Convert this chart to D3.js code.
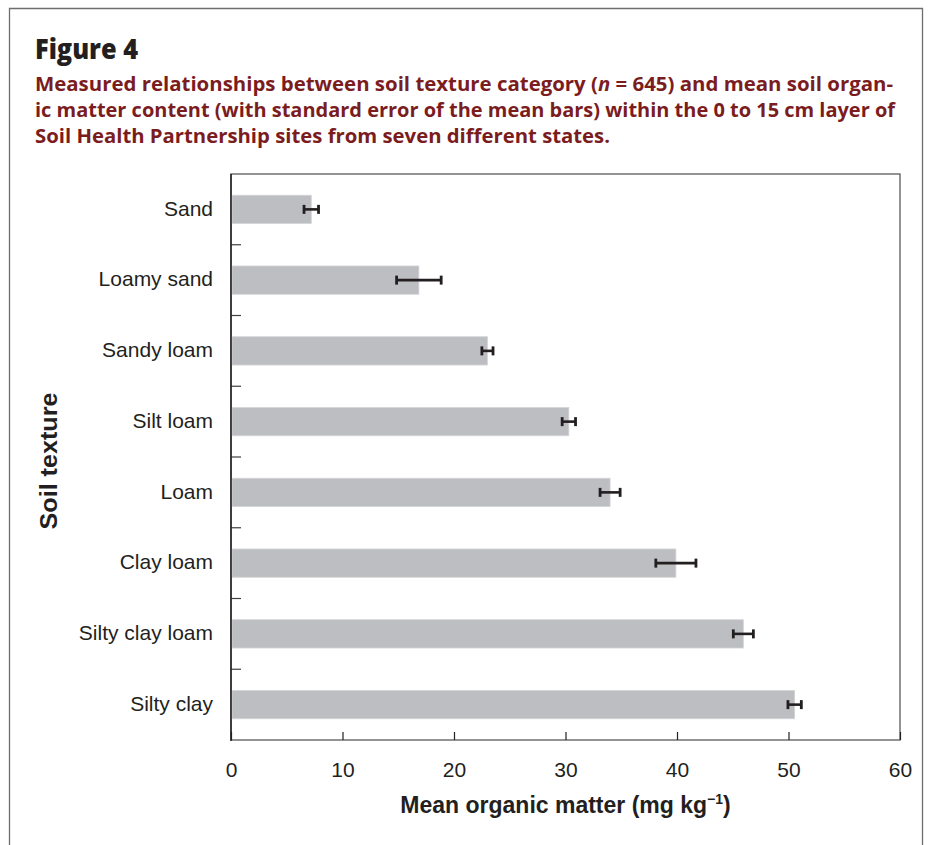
<!DOCTYPE html>
<html>
<head>
<meta charset="utf-8">
<script src="https://cdn.jsdelivr.net/npm/d3@7"></script>
<style>
	body { margin: 0; background: #fff; }
	svg { display: block; }
</style>
</head>
<body>
<script>
// soil texture categories, top to bottom
const categories = ['Sand', 'Loamy sand', 'Sandy loam', 'Silt loam', 'Loam', 'Clay loam', 'Silty clay loam', 'Silty clay'];
// mean organic matter (mg kg-1)
const means = [7.2, 16.85, 23.0, 30.3, 34.0, 39.9, 45.95, 50.55];
// standard error of the mean
const stdErrors = [0.65, 2.0, 0.5, 0.6, 0.9, 1.8, 0.9, 0.6];
const xTicks = [0, 10, 20, 30, 40, 50, 60];

const captionLines = [
	'Measured relationships between soil texture category (|n| = 645) and mean soil organ-',
	'ic matter content (with standard error of the mean bars) within the 0 to 15 cm layer of',
	'Soil Health Partnership sites from seven different states.'
];

const width = 929, height = 845;
const margins = {left: 231, right: 29, top: 174, bottom: 105};
const red = '#7b1c1e';
const ink = '#231f20';

const svg = d3.select('body').append('svg')
	.attr('width', width)
	.attr('height', height);

// outer frame (open at the bottom)
svg.append('path')
	.attr('d', `M9.5,${height} V8.5 H922.5 V${height}`)
	.attr('fill', 'none')
	.attr('stroke', '#6d6e70')
	.attr('stroke-width', 1.3);

svg.append('text')
	.attr('x', 35)
	.attr('y', 59)
	.attr('fill', ink)
	.style('font-family', '"Open Sans", sans-serif')
	.style('font-weight', 800)
	.style('font-size', '28px')
	.attr('textLength', 103)
	.attr('lengthAdjust', 'spacingAndGlyphs')
	.text('Figure 4');

const capWidths = [858, 860, 575];
captionLines.forEach((line, i) => {
	let t = svg.append('text')
		.attr('x', 35)
		.attr('y', 91 + i * 26)
		.attr('fill', red)
		.style('font-family', '"Open Sans", sans-serif')
		.style('font-weight', 700)
		.style('font-size', '19.5px')
		.attr('textLength', capWidths[i])
		.attr('lengthAdjust', 'spacingAndGlyphs');
	line.split('|').forEach((part, j) => {
		t.append('tspan')
			.style('font-style', j % 2 ? 'italic' : 'normal')
			.text(part);
	});
});

const x = d3.scaleLinear()
	.domain([0, 60])
	.range([margins.left, width - margins.right]);

const y = d3.scaleBand()
	.domain(categories)
	.range([margins.top, height - margins.bottom])
	.paddingInner(0.6)
	.paddingOuter(0.3);

const step = y.step();
const plotTop = margins.top, plotBottom = height - margins.bottom;

// plot box
svg.append('rect')
	.attr('x', x(0))
	.attr('y', plotTop)
	.attr('width', x(60) - x(0))
	.attr('height', plotBottom - plotTop)
	.attr('fill', 'none')
	.attr('stroke', '#58595b')
	.attr('stroke-width', 1.3);

// bars
svg.append('g').selectAll('rect')
	.data(categories)
	.join('rect')
	.attr('x', x(0) + 1)
	.attr('y', d => y(d))
	.attr('width', (d, i) => x(means[i]) - x(0) - 1)
	.attr('height', y.bandwidth())
	.attr('fill', '#bdbec1')
	.attr('stroke', '#d4d5d7')
	.attr('stroke-width', 0.8);

// error bars
const err = svg.append('g').selectAll('g')
	.data(categories)
	.join('g')
	.attr('transform', d => `translate(0,${y(d) + y.bandwidth() / 2})`);

err.append('line')
	.attr('x1', (d, i) => x(means[i] - stdErrors[i]))
	.attr('x2', (d, i) => x(means[i] + stdErrors[i]))
	.attr('stroke', ink)
	.attr('stroke-width', 2.6);

[-1, 1].forEach(s => {
	err.append('line')
		.attr('x1', (d, i) => x(means[i] + s * stdErrors[i]))
		.attr('x2', (d, i) => x(means[i] + s * stdErrors[i]))
		.attr('y1', -4.5)
		.attr('y2', 4.5)
		.attr('stroke', ink)
		.attr('stroke-width', 2.8);
});

// x axis
const xAxis = d3.axisBottom(x)
	.tickValues(xTicks)
	.tickSize(-8)
	.tickPadding(22);

svg.append('g')
	.attr('class', 'x axis')
	.attr('transform', `translate(0,${plotBottom})`)
	.call(xAxis)
	.call(g => g.select('.domain').remove())
	.call(g => g.selectAll('.tick line').attr('stroke', ink).attr('stroke-width', 1.2))
	.call(g => g.selectAll('.tick text')
		.attr('fill', ink)
		.style('font-family', '"Liberation Sans", Arial, sans-serif')
		.style('font-size', '21px'));

// y axis: ticks at category boundaries, labels at band centres
const yBounds = d3.range(1, categories.length).map(i => plotTop + i * step);
svg.append('g').selectAll('line')
	.data(yBounds)
	.join('line')
	.attr('x1', x(0))
	.attr('x2', x(0) + 10)
	.attr('y1', d => d)
	.attr('y2', d => d)
	.attr('stroke', '#414042')
	.attr('stroke-width', 1.2);

svg.append('line')
	.attr('x1', x(0))
	.attr('x2', x(0))
	.attr('y1', plotTop)
	.attr('y2', plotBottom + 1)
	.attr('stroke', ink)
	.attr('stroke-width', 1.5);

svg.append('g').selectAll('text')
	.data(categories)
	.join('text')
	.attr('x', 213)
	.attr('y', d => y(d) + y.bandwidth() / 2)
	.attr('dy', '0.3em')
	.attr('text-anchor', 'end')
	.attr('fill', ink)
	.style('font-family', '"Liberation Sans", Arial, sans-serif')
	.style('font-size', '21px')
	.text(d => d);

// axis titles
const xTitle = svg.append('text')
	.attr('x', (x(0) + x(60)) / 2)
	.attr('y', 813)
	.attr('text-anchor', 'middle')
	.attr('fill', ink)
	.style('font-family', '"Liberation Sans", Arial, sans-serif')
	.style('font-weight', 700)
	.style('font-size', '23px');
xTitle.append('tspan').text('Mean organic matter (mg kg');
xTitle.append('tspan').attr('dy', -9).style('font-size', '14px').text('\u22121');
xTitle.append('tspan').attr('dy', 9).text(')');

svg.append('text')
	.attr('transform', `translate(57,${(plotTop + plotBottom) / 2 + 4}) rotate(-90)`)
	.attr('text-anchor', 'middle')
	.attr('fill', ink)
	.style('font-family', '"Liberation Sans", Arial, sans-serif')
	.style('font-weight', 700)
	.style('font-size', '23px')
	.attr('textLength', 137)
	.attr('lengthAdjust', 'spacingAndGlyphs')
	.text('Soil texture');
</script>
</body>
</html>
